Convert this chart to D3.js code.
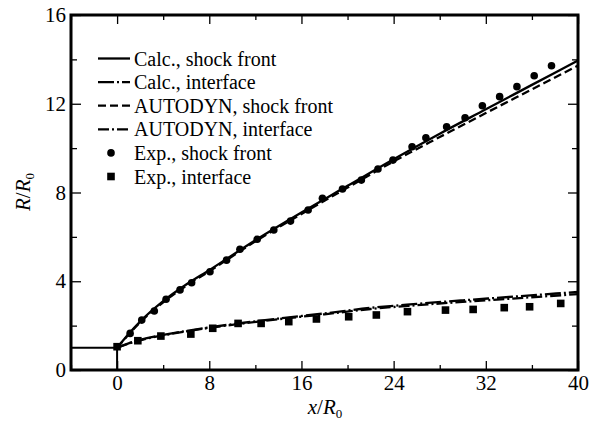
<!DOCTYPE html>
<html>
<head>
<meta charset="utf-8">
<script src="https://cdn.jsdelivr.net/npm/d3@7"></script>
<style>
  body { margin: 0; background: #fff; }
  svg { display: block; }
  text { font-family: "Liberation Serif", "Times New Roman", serif; fill: #000; }
</style>
</head>
<body>
<svg id="chart" width="591" height="423"></svg>
<script>
// model curves
const shockX = [0, 1, 2, 4, 6, 8, 12, 16, 20, 24, 28, 32, 36, 40];
const calcShockR = [1, 1.62, 2.18, 3.1, 3.85, 4.5, 5.85, 7.1, 8.3, 9.5, 10.65, 11.75, 12.85, 13.95];
const autoShockR = [1, 1.6, 2.15, 3.05, 3.8, 4.45, 5.8, 7.03, 8.22, 9.4, 10.5, 11.58, 12.65, 13.72];

const intX = [0, 1, 2, 4, 6, 8, 11, 14, 18, 22, 26, 30, 34, 40];
const calcIntR = [1, 1.2, 1.36, 1.58, 1.76, 1.92, 2.13, 2.32, 2.55, 2.8, 2.98, 3.14, 3.29, 3.52];
const autoIntR = [1, 1.19, 1.34, 1.56, 1.74, 1.9, 2.1, 2.29, 2.51, 2.75, 2.92, 3.07, 3.21, 3.42];

// experiments
const expShockX = [1.13, 2.14, 3.23, 4.25, 5.46, 6.47, 8.06, 9.5, 10.66, 12.16, 13.6, 15.05, 16.58, 17.82, 19.56, 21.2, 22.64, 23.94, 25.6, 26.8, 28.6, 30.2, 31.7, 33.2, 34.7, 36.2, 37.7];
const expShockR = [1.65, 2.25, 2.66, 3.19, 3.61, 3.93, 4.43, 4.95, 5.44, 5.89, 6.31, 6.71, 7.21, 7.74, 8.16, 8.56, 9.06, 9.46, 10.06, 10.47, 10.96, 11.37, 11.91, 12.32, 12.77, 13.26, 13.71];

const expIntX = [0, 1.8, 3.8, 6.4, 8.3, 10.5, 12.5, 14.9, 17.3, 20.1, 22.5, 25.2, 28.5, 30.9, 33.6, 35.8, 38.5];
const expIntR = [1.05, 1.32, 1.53, 1.62, 1.88, 2.1, 2.1, 2.18, 2.3, 2.4, 2.48, 2.63, 2.7, 2.73, 2.81, 2.85, 3.0];

// nozzle outline
const nozzleX = [-4, 0, 0];
const nozzleR = [1, 1, 0];

const xTicks = [0, 8, 16, 24, 32, 40];
const xMinor = [-4, 4, 12, 20, 28, 36];
const yTicks = [0, 4, 8, 12, 16];
const yMinor = [2, 6, 10, 14];

const legendLabels = ["Calc., shock front", "Calc., interface", "AUTODYN, shock front",
                      "AUTODYN, interface", "Exp., shock front", "Exp., interface"];

const margin = { left: 71, right: 13, top: 15, bottom: 53 };
const W = 591, H = 423;

const svg = d3.select("#chart");

const x = d3.scaleLinear().domain([-4, 40]).range([margin.left, W - margin.right]);
const y = d3.scaleLinear().domain([0, 16]).range([H - margin.bottom, margin.top]);

const line = d3.line().x(d => x(d[0])).y(d => y(d[1])).curve(d3.curveMonotoneX);
const zip = (a, b) => a.map((v, i) => [v, b[i]]);

// axes, ticks inside, mirrored
function drawAxis(axis, tx, ty) {
  const g = svg.append("g").attr("transform", `translate(${tx},${ty})`).call(axis);
  g.select(".domain").remove();
  g.selectAll(".tick line").attr("stroke", "#000").attr("stroke-width", 1.3);
  g.selectAll("text").style("font-size", "21px").style("font-family", "Liberation Serif");
  return g;
}
const yBot = y(0), yTop = y(16), xLeft = x(-4), xRight = x(40);

drawAxis(d3.axisBottom(x).tickValues(xTicks).tickSize(-9).tickPadding(5), 0, yBot);
drawAxis(d3.axisBottom(x).tickValues(xMinor).tickSize(-5).tickFormat(""), 0, yBot);
drawAxis(d3.axisTop(x).tickValues(xTicks).tickSize(-9).tickFormat(""), 0, yTop);
drawAxis(d3.axisTop(x).tickValues(xMinor).tickSize(-5).tickFormat(""), 0, yTop);
drawAxis(d3.axisLeft(y).tickValues(yTicks).tickSize(-10).tickPadding(5), xLeft, 0);
drawAxis(d3.axisLeft(y).tickValues(yMinor).tickSize(-6).tickFormat(""), xLeft, 0);
drawAxis(d3.axisRight(y).tickValues(yTicks).tickSize(-10).tickFormat(""), xRight, 0);
drawAxis(d3.axisRight(y).tickValues(yMinor).tickSize(-6).tickFormat(""), xRight, 0);

svg.append("rect")
  .attr("x", xLeft).attr("y", yTop)
  .attr("width", xRight - xLeft).attr("height", yBot - yTop)
  .attr("fill", "none").attr("stroke", "#000").attr("stroke-width", 3);

// nozzle
svg.append("path").datum(zip(nozzleX, nozzleR))
  .attr("d", d3.line().x(d => x(d[0])).y(d => y(d[1])))
  .attr("fill", "none").attr("stroke", "#000").attr("stroke-width", 2);

const series = [
  { data: zip(shockX, calcShockR), dash: null },
  { data: zip(intX, calcIntR), dash: "16,3,2,3" },
  { data: zip(shockX, autoShockR), dash: "8,4" },
  { data: zip(intX, autoIntR), dash: "11,3,2,3" }
];

series.forEach(s => {
  svg.append("path").datum(s.data)
    .attr("d", line)
    .attr("fill", "none")
    .attr("stroke", "#000")
    .attr("stroke-width", 2.3)
    .attr("stroke-dasharray", s.dash);
});

svg.append("g").selectAll("circle")
  .data(zip(expShockX, expShockR))
  .join("circle")
  .attr("cx", d => x(d[0])).attr("cy", d => y(d[1]))
  .attr("r", 3.8).attr("fill", "#000");

svg.append("g").selectAll("rect")
  .data(zip(expIntX, expIntR))
  .join("rect")
  .attr("x", d => x(d[0]) - 3.8).attr("y", d => y(d[1]) - 3.8)
  .attr("width", 7.6).attr("height", 7.6).attr("fill", "#000");

// legend
const leg = svg.append("g");
const rowY = i => 58.5 + i * 23.6;
legendLabels.forEach((lab, i) => {
  const yy = rowY(i);
  if (i < 4) {
    leg.append("line")
      .attr("x1", 98).attr("x2", 130).attr("y1", yy).attr("y2", yy)
      .attr("stroke", "#000").attr("stroke-width", 2.3)
      .attr("stroke-dasharray", series[i].dash);
  } else if (i === 4) {
    leg.append("circle").attr("cx", 111).attr("cy", yy).attr("r", 3.8).attr("fill", "#000");
  } else {
    leg.append("rect").attr("x", 107.2).attr("y", yy - 3.8).attr("width", 7.6).attr("height", 7.6).attr("fill", "#000");
  }
  leg.append("text")
    .attr("x", 134).attr("y", yy).attr("dy", "0.35em")
    .style("font-size", "20px")
    .text(lab);
});

// axis titles
const xt = svg.append("text")
  .attr("x", 325).attr("y", 414)
  .attr("text-anchor", "middle")
  .style("font-size", "21px");
xt.append("tspan").style("font-style", "italic").text("x");
xt.append("tspan").text("/");
xt.append("tspan").style("font-style", "italic").text("R");
xt.append("tspan").attr("dy", 4).style("font-size", "13px").text("0");

const yt = svg.append("text")
  .attr("transform", `translate(30,192) rotate(-90)`)
  .attr("text-anchor", "middle")
  .style("font-size", "21px");
yt.append("tspan").style("font-style", "italic").text("R");
yt.append("tspan").text("/");
yt.append("tspan").style("font-style", "italic").text("R");
yt.append("tspan").attr("dy", 4).style("font-size", "13px").text("0");
</script>
</body>
</html>
